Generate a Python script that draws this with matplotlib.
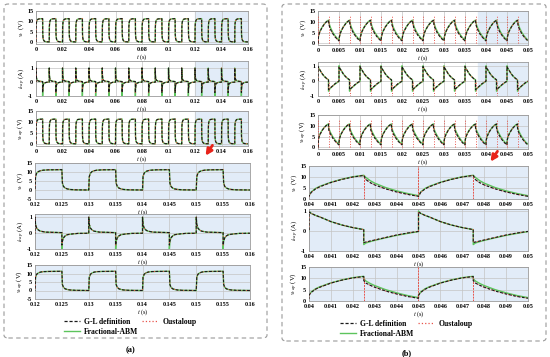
import numpy as np
import matplotlib
matplotlib.use("Agg")
import matplotlib.pyplot as plt
from matplotlib.lines import Line2D
from matplotlib.patches import FancyBboxPatch, FancyArrowPatch

plt.rcParams["font.family"] = ["Liberation Serif", "DejaVu Serif"]
plt.rcParams["mathtext.fontset"] = "stix"

# ===== (a) un periodo de conmutacion (0.01 s), 16 pulsos =====
A_PERIODO = 0.01
A_PULSOS = 16
a_t = [0, 0.0001, 0.0003, 0.0006, 0.001, 0.0015, 0.0025, 0.005,
       0.005, 0.0051, 0.0053, 0.0056, 0.006, 0.0065, 0.0075, 0.01]
a_vc = [0, 7.5, 9.3, 10.2, 10.7, 11.0, 11.2, 11.3,
        11.3, 3.8, 2.0, 1.1, 0.6, 0.3, 0.1, 0.0]
a_vcap = [0, 7.8, 9.5, 10.3, 10.8, 11.1, 11.2, 11.3,
          11.3, 3.5, 1.9, 1.0, 0.6, 0.3, 0.1, 0.0]
a_ti = [0, 0, 0.0001, 0.0003, 0.0006, 0.001, 0.002, 0.005,
        0.005, 0.0051, 0.0053, 0.0056, 0.006, 0.007, 0.008, 0.01]
a_icap_gl = [0, 1.0, 0.55, 0.32, 0.2, 0.12, 0.06, 0.03,
             -0.75, -0.5, -0.3, -0.18, -0.1, -0.05, -0.02, -0.01]
a_icap_abm = [0, 1.0, 0.55, 0.32, 0.2, 0.12, 0.06, 0.03,
              -1.0, -0.5, -0.3, -0.18, -0.1, -0.05, -0.02, -0.01]

# ===== (b) un periodo de conmutacion (0.005 s), 10 pulsos =====
B_PERIODO = 0.005
B_PULSOS = 10
B_V0 = 0.0
b_t = [0, 0.0001, 0.0003, 0.0005, 0.001, 0.0015, 0.002, 0.0025,
       0.0025, 0.0026, 0.0028, 0.003, 0.0035, 0.004, 0.0045, 0.005]
b_vc_gl = [1.2, 3.0, 4.6, 5.6, 7.5, 8.9, 10.0, 10.7,
           10.7, 8.8, 7.4, 6.4, 4.6, 3.2, 2.1, 1.2]
b_vc_abm = [1.5, 3.2, 4.8, 5.8, 7.6, 9.0, 10.1, 10.8,
            10.8, 9.8, 8.3, 7.2, 5.2, 3.7, 2.5, 1.5]
b_vcap_gl = [2.5, 3.8, 5.2, 6.1, 7.9, 9.2, 10.2, 10.8,
             9.0, 7.9, 6.9, 6.1, 4.4, 3.1, 2.0, 1.2]
b_vcap_abm = [2.7, 4.0, 5.4, 6.3, 8.0, 9.3, 10.3, 10.9,
              9.8, 8.8, 7.7, 6.8, 5.0, 3.6, 2.4, 1.5]
b_ti = [0, 0, 0.0001, 0.0003, 0.0005, 0.001, 0.0015, 0.002, 0.0025,
        0.0025, 0.0026, 0.0028, 0.003, 0.0035, 0.004, 0.0045, 0.005]
b_icap_gl = [0, 0.95, 0.88, 0.78, 0.7, 0.47, 0.3, 0.17, 0.07,
             -0.58, -0.55, -0.5, -0.45, -0.32, -0.2, -0.1, -0.02]
b_icap_abm = [0, 1.0, 0.88, 0.78, 0.7, 0.47, 0.3, 0.17, 0.07,
              -0.68, -0.6, -0.53, -0.47, -0.34, -0.22, -0.12, -0.03]
# picos de Oustaloup en las conmutaciones (vista completa / vista ampliada)
ous_v_top = 13          # altura de los picos en v (vista completa)
ous_i_low = -1.0        # picos de i en las bajadas (vista completa)
ous_v_subida = 15       # picos en subida (zoom)
ous_v_bajada = 10.7     # picos en bajada (zoom)
ous_i_subida = 1.0      # pico de i en subida (zoom)

# ejes
a_xticks = [0, 0.02, 0.04, 0.06, 0.08, 0.1, 0.12, 0.14, 0.16]
a_xlabels = ["0", "0.02", "0.04", "0.06", "0.08", "0.1", "0.12", "0.14", "0.16"]
az_xticks = [0.12, 0.125, 0.13, 0.135, 0.14, 0.145, 0.15, 0.155, 0.16]
az_xlabels = ["0.12", "0.125", "0.13", "0.135", "0.14", "0.145", "0.15", "0.155", "0.16"]
b_xticks = [0, 0.005, 0.01, 0.015, 0.02, 0.025, 0.03, 0.035, 0.04, 0.045, 0.05]
b_xlabels = ["0", "0.005", "0.01", "0.015", "0.02", "0.025", "0.03", "0.035", "0.04", "0.045", "0.05"]
bz_xticks = [0.04, 0.041, 0.042, 0.043, 0.044, 0.045, 0.046, 0.047, 0.048, 0.049, 0.05]
bz_xlabels = ["0.04", "0.041", "0.042", "0.043", "0.044", "0.045", "0.046", "0.047", "0.048", "0.049", "0.05"]

C_GL = "#1a1a1a"
C_OUS = "#e8534a"
C_ABM = "#5cc45c"
C_FONDO = "#e2ecf8"
C_GRID = "#c4c4c4"

W, H = 550, 357
fig = plt.figure(figsize=(5.5, 3.57), dpi=100)


def ejes(x0, y0, x1, y1):
    return fig.add_axes([x0 / W, 1 - y1 / H, (x1 - x0) / W, (y1 - y0) / H])


def repetir(off, vals, periodo, n):
    off = np.asarray(off, float)
    t = np.concatenate([off + k * periodo for k in range(n)])
    return t, np.tile(np.asarray(vals, float), n)


def formato(ax, xlim, xt, xl, ylim, yt, ylabel, zoom=False, span=None):
    ax.set_xlim(xlim)
    ax.set_ylim(ylim)
    ax.set_xticks(xt)
    ax.set_xticklabels(xl)
    ax.set_yticks(yt)
    ax.set_yticklabels([str(v) for v in yt])
    ax.tick_params(length=0, labelsize=4.4, pad=2)
    for lab in ax.get_xticklabels() + ax.get_yticklabels():
        lab.set_fontweight("bold")
    ax.grid(True, color=C_GRID, lw=0.5)
    ax.set_axisbelow(True)
    if zoom:
        ax.set_facecolor(C_FONDO)
    if span is not None:
        ax.axvspan(span[0], span[1], color=C_FONDO, zorder=0)
    for s in ax.spines.values():
        s.set_color("#9a9a9a")
        s.set_linewidth(0.6)
    ax.set_xlabel("$t$ (s)", fontsize=4.6, labelpad=0.5)
    ax.set_ylabel(ylabel, fontsize=4.9, labelpad=1)


def trazar(ax, t, gl, abm):
    ax.plot(t, abm, color=C_ABM, lw=1.0, zorder=2)
    ax.plot(t, gl, color=C_OUS, lw=0.8, ls=":", zorder=3)
    ax.plot(t, gl, color=C_GL, lw=0.8, ls=(0, (2.5, 1.5)), zorder=4)


YL_VC = "$v_c$ (V)"
YL_I = "$i_{cap}$ (A)"
YL_VCAP = "$v_{cap}$ (V)"

# ---------------- panel (a) ----------------
t1, vc = repetir(a_t, a_vc, A_PERIODO, A_PULSOS)
_, vcap = repetir(a_t, a_vcap, A_PERIODO, A_PULSOS)
t2, ig = repetir(a_ti, a_icap_gl, A_PERIODO, A_PULSOS)
_, ia = repetir(a_ti, a_icap_abm, A_PERIODO, A_PULSOS)

filas_a = [(11, 44), (61, 96), (111, 146)]
filas_az = [(163, 199), (214, 249), (265, 299)]
for (y0, y1), (tt, g, a, lim, yt, yl) in zip(filas_a, [
        (t1, vc, vc, (-1, 15), [0, 5, 10, 15], YL_VC),
        (t2, ig, ia, (-1, 1.5), [-1, 0, 1], YL_I),
        (t1, vcap, vcap, (-1, 15), [0, 5, 10, 15], YL_VCAP)]):
    ax = ejes(36, y0, 248, y1)
    trazar(ax, tt, g, a)
    formato(ax, (0, 0.16), a_xticks, a_xlabels, lim, yt, yl, span=(0.12, 0.16))

for (y0, y1), (tt, g, a, lim, yt, yl) in zip(filas_az, [
        (t1, vc, vc, (-5, 15), [-5, 0, 5, 10, 15], YL_VC),
        (t2, ig, ia, (-1, 1.2), [-1, 0, 1], YL_I),
        (t1, vcap, vcap, (-5, 15), [-5, 0, 5, 10, 15], YL_VCAP)]):
    ax = ejes(35, y0, 250, y1)
    trazar(ax, tt, g, a)
    formato(ax, (0.12, 0.16), az_xticks, az_xlabels, lim, yt, yl, zoom=True)

# ---------------- panel (b) ----------------
tb, bvg = repetir(b_t, b_vc_gl, B_PERIODO, B_PULSOS)
_, bva = repetir(b_t, b_vc_abm, B_PERIODO, B_PULSOS)
_, bcg = repetir(b_t, b_vcap_gl, B_PERIODO, B_PULSOS)
_, bca = repetir(b_t, b_vcap_abm, B_PERIODO, B_PULSOS)
tbi, big = repetir(b_ti, b_icap_gl, B_PERIODO, B_PULSOS)
_, bia = repetir(b_ti, b_icap_abm, B_PERIODO, B_PULSOS)
for arr in (bvg, bva, bcg, bca):
    arr[0] = B_V0
subidas = np.arange(0, B_PERIODO * B_PULSOS + 1e-9, B_PERIODO)
bajadas = subidas[:-1] + B_PERIODO / 2
bordes = np.sort(np.concatenate([subidas, bajadas]))

filas_b = [(11, 45), (62, 96), (115, 149)]
filas_bz = [(166, 199), (209, 251), (267, 301)]
series_b = [
    (tb, bvg, bva, (-0.7, 15), [0, 5, 10, 15], YL_VC),
    (tbi, big, bia, (-1, 1.25), [-1, 0, 1], YL_I),
    (tb, bcg, bca, (-0.7, 15), [0, 5, 10, 15], YL_VCAP)]
picos_b = [(bordes, 0, ous_v_top), (bajadas, ous_i_low, 0), (bordes, 0, ous_v_top)]
for (y0, y1), (tt, g, a, lim, yt, yl), (sp, lo, hi) in zip(filas_b, series_b, picos_b):
    ax = ejes(318, y0, 528, y1)
    trazar(ax, tt, g, a)
    ax.vlines(sp, lo, hi, color=C_OUS, lw=0.7, ls=":", zorder=3)
    formato(ax, (0, 0.05), b_xticks, b_xlabels, lim, yt, yl, span=(0.038, 0.05))

lims_bz = [(0, 15), (-1, 1.1), (0, 15)]
en_zoom = lambda s: s[(s > 0.0405) & (s < 0.0495)]
for i, ((y0, y1), (tt, g, a, lim, yt, yl), lz) in enumerate(zip(filas_bz, series_b, lims_bz)):
    ax = ejes(309, y0, 528, y1)
    trazar(ax, tt, g, a)
    if i == 1:
        ax.vlines(en_zoom(subidas), 0, ous_i_subida, color=C_OUS, lw=0.7, ls=(0, (2, 1)), zorder=3)
    else:
        ax.vlines(en_zoom(subidas), 0, ous_v_subida, color=C_OUS, lw=0.7, ls=(0, (2, 1)), zorder=3)
        ax.vlines(en_zoom(bajadas), 0, ous_v_bajada, color=C_OUS, lw=0.7, ls=(0, (2, 1)), zorder=3)
    formato(ax, (0.04, 0.05), bz_xticks, bz_xlabels, lz, yt, yl, zoom=True)

# ---------------- leyendas, marcos, flechas ----------------
manejadores = [
    Line2D([], [], color=C_GL, lw=0.9, ls=(0, (2.5, 1.5))),
    Line2D([], [], color=C_ABM, lw=1.0),
    Line2D([], [], color=C_OUS, lw=0.9, ls=":"),
]
textos = ["G-L definition", "Fractional-ABM", "Oustaloup"]
for xc, yc in [(130, 327), (406, 329)]:
    fig.legend(manejadores, textos, ncol=2, loc="center",
               bbox_to_anchor=(xc / W, 1 - yc / H), frameon=False,
               prop={"size": 5.5, "weight": "bold"}, handlelength=2.2,
               handletextpad=0.5, columnspacing=0.4, labelspacing=0.25)

for x0, y0, x1, y1 in [(4, 4, 267, 338), (282, 4, 546, 341)]:
    fig.add_artist(FancyBboxPatch((x0 / W, 1 - y1 / H), (x1 - x0) / W, (y1 - y0) / H,
                                  boxstyle="round,pad=0,rounding_size=0.008",
                                  transform=fig.transFigure, fill=False,
                                  ec="#9a9a9a", ls=(0, (4, 3)), lw=0.8))

fig.text(130 / W, 1 - 350 / H, "(a)", ha="center", va="center", fontsize=6, fontweight="bold")
fig.text(407 / W, 1 - 353 / H, "(b)", ha="center", va="center", fontsize=6, fontweight="bold")

for (xa, ya), (xb, yb) in [((214, 143), (204, 158)), ((499, 149), (489, 164))]:
    fig.add_artist(FancyArrowPatch((xa / W, 1 - ya / H), (xb / W, 1 - yb / H),
                                   transform=fig.transFigure, arrowstyle="-|>",
                                   mutation_scale=9, color="#e8231a", lw=2.0))

fig.savefig("out.png", dpi=100)
